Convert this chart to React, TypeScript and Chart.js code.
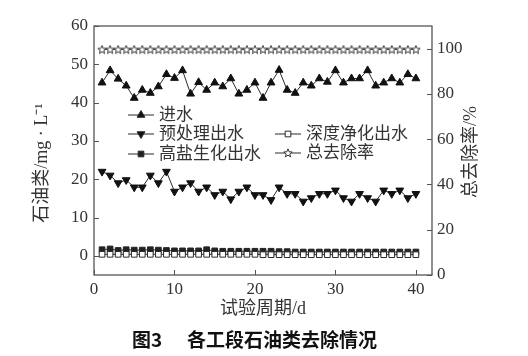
import React, { useEffect, useRef } from "react";
import { Chart, registerables } from "chart.js";
import { drawPoint } from "chart.js/helpers";

Chart.register(...registerables);

const days = [1, 2, 3, 4, 5, 6, 7, 8, 9, 10, 11, 12, 13, 14, 15, 16, 17, 18, 19, 20, 21, 22, 23, 24, 25, 26, 27, 28, 29, 30, 31, 32, 33, 34, 35, 36, 37, 38, 39, 40];
const influent = [45.2, 48.4, 46.2, 44.4, 41.2, 43.3, 42.5, 44.2, 47.4, 46.4, 48.4, 42.3, 45.3, 43.3, 45.2, 44.2, 46.3, 42.3, 43.3, 45.2, 41.2, 45.2, 48.5, 43.3, 42.5, 45.2, 44.4, 46.3, 45.4, 48.4, 45.2, 46.3, 46.3, 48.4, 44.4, 45.2, 46.3, 45.2, 47.4, 46.3];
const pretreated = [22.0, 21.0, 19.0, 19.8, 17.9, 17.9, 21.0, 19.0, 22.0, 16.8, 17.9, 19.0, 16.8, 17.9, 15.9, 16.8, 14.8, 16.8, 17.9, 15.9, 15.9, 14.6, 17.9, 16.2, 16.2, 14.2, 15.1, 16.2, 16.2, 17.1, 15.1, 14.2, 16.2, 15.1, 14.2, 17.1, 16.2, 17.1, 15.1, 16.2];
const highSalt = [1.6, 1.8, 1.4, 1.6, 1.5, 1.5, 1.6, 1.5, 1.4, 1.3, 1.3, 1.3, 1.3, 1.6, 1.3, 1.2, 1.2, 1.2, 1.2, 1.2, 1.2, 1.2, 1.1, 1.1, 1.0, 1.0, 1.0, 1.0, 1.0, 1.0, 1.0, 1.0, 1.0, 1.0, 1.0, 1.0, 1.0, 1.0, 1.0, 1.0];
const deepPurified = [0.4, 0.4, 0.4, 0.4, 0.4, 0.4, 0.4, 0.4, 0.4, 0.4, 0.4, 0.4, 0.4, 0.4, 0.4, 0.4, 0.4, 0.4, 0.4, 0.4, 0.3, 0.3, 0.3, 0.3, 0.3, 0.3, 0.3, 0.3, 0.3, 0.3, 0.3, 0.3, 0.3, 0.3, 0.3, 0.3, 0.3, 0.3, 0.3, 0.3];
const removalRate = [99.6, 99.6, 99.6, 99.6, 99.6, 99.6, 99.6, 99.6, 99.6, 99.6, 99.6, 99.6, 99.6, 99.6, 99.6, 99.6, 99.6, 99.6, 99.6, 99.6, 99.6, 99.6, 99.6, 99.6, 99.6, 99.6, 99.6, 99.6, 99.6, 99.6, 99.6, 99.6, 99.6, 99.6, 99.6, 99.6, 99.6, 99.6, 99.6, 99.6];

const xTicks = [0, 10, 20, 30, 40];
const leftTicks = [0, 10, 20, 30, 40, 50, 60];
const rightTicks = [0, 20, 40, 60, 80, 100];

const seriesNames = ["进水", "预处理出水", "高盐生化出水", "深度净化出水", "总去除率"];
const xTitle = "试验周期/d";
const leftTitle = "石油类/mg · L⁻¹";
const rightTitle = "总去除率/%";
const captionNum = "图3";
const captionText = "各工段石油类去除情况";

const SERIF = "'Liberation Serif', 'Noto Sans CJK SC', serif";
const INK = "#2a2a2a";

function makeStar(): HTMLCanvasElement {
  const c = document.createElement("canvas");
  c.width = 10;
  c.height = 10;
  const g = c.getContext("2d")!;
  g.beginPath();
  for (let i = 0; i < 10; i++) {
    const r = i % 2 === 0 ? 4.4 : 1.9;
    const a = -Math.PI / 2 + (i * Math.PI) / 5;
    const px = 5 + r * Math.cos(a);
    const py = 5.3 + r * Math.sin(a);
    if (i === 0) g.moveTo(px, py);
    else g.lineTo(px, py);
  }
  g.closePath();
  g.fillStyle = "#fff";
  g.fill();
  g.strokeStyle = "#333";
  g.lineWidth = 1;
  g.stroke();
  return c;
}

const toXY = (arr: number[]) => arr.map((v, i) => ({ x: days[i], y: v }));

export default function App() {
  const ref = useRef<HTMLCanvasElement>(null);

  useEffect(() => {
    const star = makeStar();

    const legendItems = [
      { name: seriesNames[0], style: "triangle", rot: 0, r: 4.5, fill: "#111", x: 128, y: 115 },
      { name: seriesNames[1], style: "triangle", rot: 180, r: 4.5, fill: "#111", x: 128, y: 134 },
      { name: seriesNames[2], style: "rect", rot: 0, r: 4, fill: "#222", x: 128, y: 154 },
      { name: seriesNames[3], style: "rect", rot: 0, r: 4, fill: "#fff", x: 275, y: 134 },
      { name: seriesNames[4], style: star, rot: 0, r: 4, fill: "#fff", x: 275, y: 153 },
    ];

    const decor = {
      id: "decor",
      afterDraw(chart: any) {
        const ctx = chart.ctx as CanvasRenderingContext2D;
        const a = chart.chartArea;
        ctx.save();
        // frame
        ctx.strokeStyle = "#555";
        ctx.lineWidth = 1.3;
        ctx.strokeRect(a.left, a.top, a.right - a.left, a.bottom - a.top);
        // inward ticks
        ctx.lineWidth = 1;
        ctx.beginPath();
        const xs = chart.scales.x;
        xTicks.forEach((v) => {
          const p = Math.round(xs.getPixelForValue(v)) + 0.5;
          ctx.moveTo(p, a.bottom);
          ctx.lineTo(p, a.bottom - 5);
        });
        const ys = chart.scales.y;
        leftTicks.forEach((v) => {
          const p = Math.round(ys.getPixelForValue(v)) + 0.5;
          ctx.moveTo(a.left, p);
          ctx.lineTo(a.left + 5, p);
        });
        const y2 = chart.scales.y2;
        rightTicks.forEach((v) => {
          const p = Math.round(y2.getPixelForValue(v)) + 0.5;
          ctx.moveTo(a.right - 5, p);
          ctx.lineTo(a.right, p);
        });
        ctx.stroke();

        // legend
        ctx.font = `17px ${SERIF}`;
        ctx.textBaseline = "middle";
        ctx.textAlign = "left";
        legendItems.forEach((it) => {
          ctx.strokeStyle = INK;
          ctx.lineWidth = 1;
          ctx.beginPath();
          ctx.moveTo(it.x, it.y);
          ctx.lineTo(it.x + 26, it.y);
          ctx.stroke();
          ctx.fillStyle = it.fill;
          ctx.strokeStyle = INK;
          drawPoint(ctx, { pointStyle: it.style as any, rotation: it.rot, radius: it.r, borderWidth: 1 } as any, it.x + 13, it.y);
          ctx.fillStyle = "#333";
          ctx.fillText(it.name, it.x + 31, it.y + 1);
        });

        // axis titles (rotated, reading bottom-to-top)
        ctx.fillStyle = "#333";
        ctx.textAlign = "center";
        ctx.font = `18px ${SERIF}`;
        ctx.save();
        ctx.translate(42, 163);
        ctx.rotate(-Math.PI / 2);
        ctx.fillText(leftTitle, 0, 0);
        ctx.restore();
        ctx.save();
        ctx.translate(471, 152);
        ctx.rotate(-Math.PI / 2);
        ctx.fillText(rightTitle, 0, 0);
        ctx.restore();

        // caption
        ctx.fillStyle = "#111";
        ctx.textAlign = "left";
        ctx.font = `bold 19px 'Noto Sans CJK SC', sans-serif`;
        ctx.fillText(captionNum, 132, 340);
        ctx.fillText(captionText, 187, 340);
        ctx.restore();
      },
    };

    const tickFont = { family: SERIF, size: 17 };

    const chart = new Chart(ref.current!, {
      type: "line",
      data: {
        datasets: [
          {
            label: seriesNames[0],
            data: toXY(influent),
            borderColor: INK,
            borderWidth: 1,
            backgroundColor: "#111",
            pointBackgroundColor: "#111",
            pointBorderColor: "#111",
            pointStyle: "triangle",
            pointRadius: 4.5,
            yAxisID: "y",
          },
          {
            label: seriesNames[1],
            data: toXY(pretreated),
            borderColor: INK,
            borderWidth: 1,
            backgroundColor: "#111",
            pointBackgroundColor: "#111",
            pointBorderColor: "#111",
            pointStyle: "triangle",
            pointRotation: 180,
            pointRadius: 4.5,
            yAxisID: "y",
          },
          {
            label: seriesNames[3],
            data: toXY(deepPurified),
            borderColor: INK,
            borderWidth: 1,
            backgroundColor: "#fff",
            pointBackgroundColor: "#fff",
            pointBorderColor: INK,
            pointBorderWidth: 1,
            pointStyle: "rect",
            pointRadius: 4,
            yAxisID: "y",
          },
          {
            label: seriesNames[2],
            data: toXY(highSalt),
            borderColor: INK,
            borderWidth: 1,
            backgroundColor: "#222",
            pointBackgroundColor: "#222",
            pointBorderColor: "#222",
            pointStyle: "rect",
            pointRadius: 4,
            yAxisID: "y",
          },
          {
            label: seriesNames[4],
            data: toXY(removalRate),
            borderColor: "#555",
            borderWidth: 1,
            pointStyle: star as any,
            pointRadius: 4,
            yAxisID: "y2",
          },
        ],
      },
      options: {
        responsive: false,
        animation: false,
        devicePixelRatio: 1,
        layout: { padding: { left: 0, right: 0, top: 26, bottom: 36 } },
        plugins: { legend: { display: false }, tooltip: { enabled: false } },
        elements: { line: { tension: 0 } },
        scales: {
          x: {
            type: "linear",
            min: 0,
            max: 42,
            grid: { display: false, drawTicks: false },
            border: { display: false },
            afterBuildTicks: (s: any) => {
              s.ticks = xTicks.map((v) => ({ value: v }));
            },
            afterFit: (s: any) => {
              s.height = 45;
            },
            ticks: { font: tickFont, color: "#333", padding: 4, autoSkip: false, maxRotation: 0 },
            title: { display: true, text: xTitle, font: { family: SERIF, size: 18 }, color: "#333", padding: { top: 0, bottom: 0 } },
          },
          y: {
            type: "linear",
            position: "left",
            min: -5,
            max: 60,
            grid: { display: false, drawTicks: false },
            border: { display: false },
            afterBuildTicks: (s: any) => {
              s.ticks = leftTicks.map((v) => ({ value: v }));
            },
            afterFit: (s: any) => {
              s.width = 94;
            },
            ticks: { font: tickFont, color: "#333", padding: 6 },
          },
          y2: {
            type: "linear",
            position: "right",
            min: 0,
            max: 110,
            grid: { display: false, drawTicks: false },
            border: { display: false },
            afterBuildTicks: (s: any) => {
              s.ticks = rightTicks.map((v) => ({ value: v }));
            },
            afterFit: (s: any) => {
              s.width = 96;
            },
            ticks: { font: tickFont, color: "#333", padding: 5 },
          },
        },
      },
      plugins: [decor],
    } as any);

    return () => chart.destroy();
  }, []);

  return (
    <div style={{ position: "absolute", left: 0, top: 0, width: 528, height: 356, background: "#fff" }}>
      <canvas ref={ref} width={528} height={356} style={{ display: "block" }} />
    </div>
  );
}
